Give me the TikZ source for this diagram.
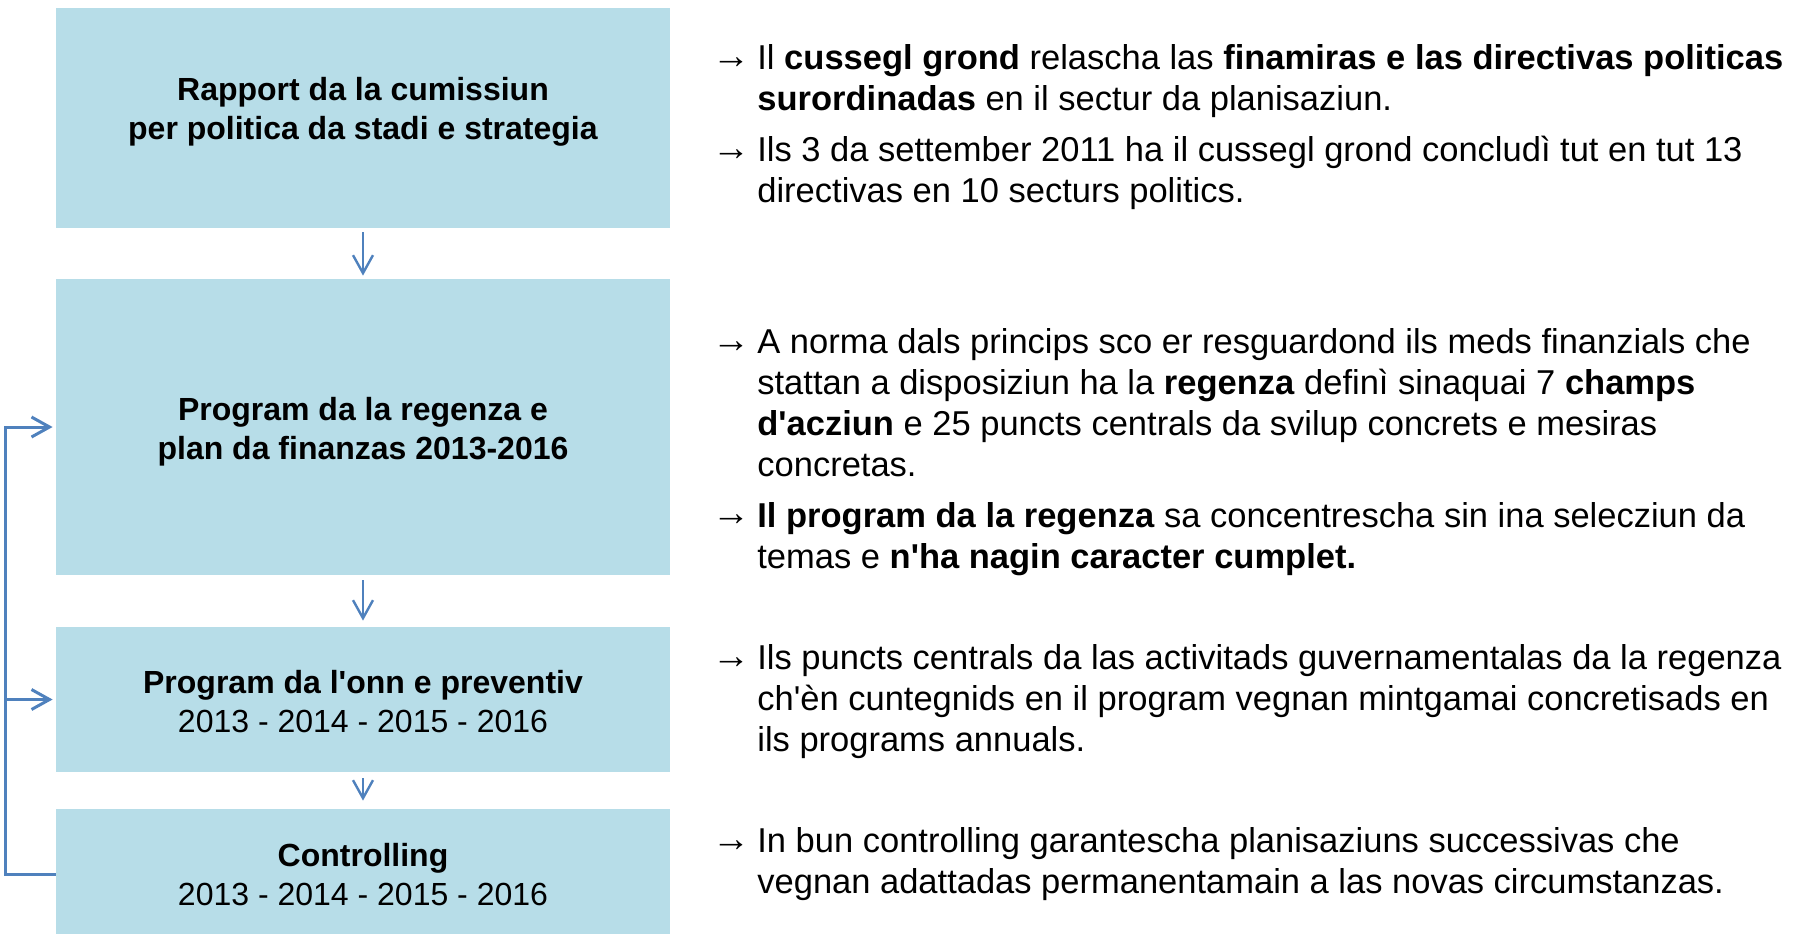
\documentclass[tikz,border=0pt]{standalone}
\usepackage{fontspec}
\setmainfont{Liberation Sans}
\usetikzlibrary{positioning,calc,arrows.meta}
\definecolor{kastenblau}{HTML}{B7DDE8}
\definecolor{pfeilblau}{HTML}{4F81BD}

\tikzset{
  stufe/.style={fill=kastenblau, minimum width=307pt, inner sep=0pt},
  stufetext/.style={align=center, inner sep=0pt, font=\fontsize{16}{19.5}\selectfont},
  pfeil/.style={draw=pfeilblau, line width=1.2pt, -{Straight Barb[length=9pt,width=10pt]}},
  punkt/.style={anchor=base, inner sep=0pt, font=\fontsize{19}{19}\selectfont},
  erklaerung/.style={align=left, anchor=base west, inner sep=0pt, font=\fontsize{17.25}{20.5}\selectfont}
}
\newcommand{\pfeilzeichen}{\raisebox{0.3pt}{→}}

\begin{document}
\begin{tikzpicture}[x=0.5pt, y=-0.5pt]
    \useasboundingbox (0,0) rectangle (1794,934);

    % Stufen der Planung
    \node[stufe, minimum height=110pt] (b1) at (363,118) {};
    \node[stufe, minimum height=148pt] (b2) at (363,427) {};
    \node[stufe, minimum height=72.5pt] (b3) at (363,699.5) {};
    \node[stufe, minimum height=62.5pt] (b4) at (363,871.5) {};

    \node[stufetext] (l1) at (363,112) {\textbf{Rapport da la cumissiun}\\\textbf{per politica da stadi e strategia}};
    \node[stufetext] (l2) at (363,432) {\textbf{Program da la regenza e}\\\textbf{plan da finanzas 2013-2016}};
    \node[stufetext] (l3) at (363,702) {\textbf{Program da l\textquotesingle onn e preventiv}\\2013 - 2014 - 2015 - 2016};
    \node[stufetext] (l4) at (363,875) {\textbf{Controlling}\\2013 - 2014 - 2015 - 2016};

    \draw[pfeil, shorten <=2pt, shorten >=1.5pt] (b1.south) -- (b2.north);
    \draw[pfeil, shorten <=2.5pt, shorten >=3pt] (b2.south) -- (b3.north);
    \draw[pfeil, shorten <=3pt, shorten >=4pt] (b3.south) -- (b4.north);

    % Rueckkopplung
    \coordinate (rueck) at (5,874);
    \draw[pfeil, line width=1.5pt, shorten >=1.5pt] (b4.west |- rueck) -- (rueck) |- (b2.west);
    \draw[pfeil, line width=1.5pt, shorten >=1.5pt] (rueck |- b3.west) -- (b3.west);

    % Erklaerungen (Basislinie der letzten Zeile)
    \node[punkt] (p1) at (731,69) {\pfeilzeichen};
    \node[erklaerung] (t1) at (757,110.5) {Il \textbf{cussegl grond} relascha las \textbf{finamiras e las directivas politicas}\\\textbf{surordinadas} en il sectur da planisaziun.};
    \node[punkt] (p2) at (731,161) {\pfeilzeichen};
    \node[erklaerung] (t2) at (757,202) {Ils 3 da settember 2011 ha il cussegl grond concludì tut en tut 13\\directivas en 10 secturs politics.};

    \node[punkt] (p3) at (731,353) {\pfeilzeichen};
    \node[erklaerung] (t3) at (757,476.5) {A norma dals princips sco er resguardond ils meds finanzials che\\stattan a disposiziun ha la \textbf{regenza} definì sinaquai 7 \textbf{champs}\\\textbf{d\textquotesingle acziun} e 25 puncts centrals da svilup concrets e mesiras\\concretas.};
    \node[punkt] (p4) at (731,526) {\pfeilzeichen};
    \node[erklaerung] (t4) at (757,568) {\textbf{Il program da la regenza} sa concentrescha sin ina selecziun da\\temas e \textbf{n\textquotesingle ha nagin caracter cumplet.}};

    \node[punkt] (p5) at (731,669) {\pfeilzeichen};
    \node[erklaerung] (t5) at (757,751) {Ils puncts centrals da las activitads guvernamentalas da la regenza\\ch\textquotesingle èn cuntegnids en il program vegnan mintgamai concretisads en\\ils programs annuals.};

    \node[punkt] (p6) at (731,852) {\pfeilzeichen};
    \node[erklaerung] (t6) at (757,893) {In bun controlling garantescha planisaziuns successivas che\\vegnan adattadas permanentamain a las novas circumstanzas.};
\end{tikzpicture}
\end{document}
